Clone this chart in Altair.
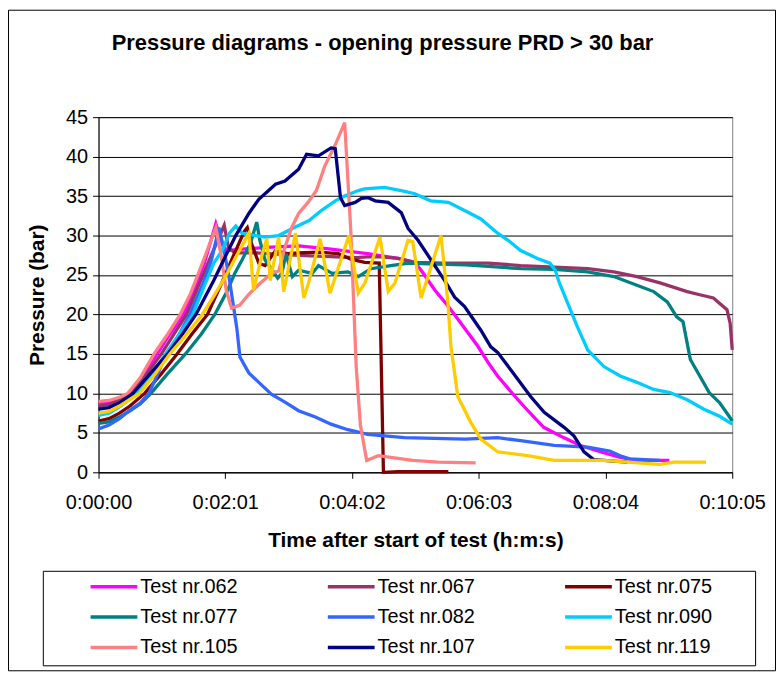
import altair as alt
import pandas as pd

tests = ["Test nr.062", "Test nr.067", "Test nr.075", "Test nr.077", "Test nr.082",
         "Test nr.090", "Test nr.105", "Test nr.107", "Test nr.119"]
colors = ["#FF00FF", "#993366", "#800000", "#008080", "#3366FF",
          "#00CCFF", "#FF8080", "#000080", "#FFCC00"]

# time in seconds after start, pressure in bar
t062 = [0,10,20,30,42,56,68,81,91,101,112,118,122,140,160,191,220,245,257,286,302,308,321,334,346,362,372,381,397,410,425,444,460,479,498,514,545]
p062 = [8.8,8.9,9.3,10,12.2,15,17.5,20,23,26.5,31.5,29,28.1,28.3,28.5,28.7,28.3,27.9,27.7,27.1,26.6,25.6,23.1,21,18.9,16,13.9,12.2,9.7,7.8,5.7,4.4,3.4,2.6,1.9,1.5,1.5]

t067 = [0,10,20,32,45,60,72,84,95,107,120,124,130,150,191,245,257,270,286,302,330,372,403,435,467,492,514,536,562,574,587,600,603,605]
p067 = [8.4,8.6,9.1,10,12.3,15,17.5,20,23.5,27.3,31.3,28.5,27.8,27.8,27.5,27.2,27.3,27.3,27.1,26.6,26.5,26.5,26.2,26.0,25.8,25.4,24.8,24,22.9,22.5,22.1,20.6,18.9,15.5]

t075 = [0,10,20,30,44,60,75,89,104,116,128,139,142,146,153,159,169,180,191,210,229,241,254,268,272,286,334]
p075 = [6.5,6.8,7.5,8.4,10,12.5,15,17.5,20,23.5,27.2,30.5,31,29,26.5,26.2,28.1,27.7,27.8,27.9,27.7,27,26.6,26.5,0,0.1,0.1]

t077 = [0,10,20,30,40,50,66,83,98,111,117,123,130,137,145,151,154,159,166,171,175,179,185,191,204,210,223,238,248,260,279,296,315,350,372,403,435,467,492,514,530,543,552,558,565,574,583,593,602,605]
p077 = [6.2,6.4,7.0,7.8,8.7,10,12.5,15,17.5,20,21.5,23,25.2,26.9,29,31.7,29.4,26.9,25.6,24.6,25.2,27.7,24.8,25.6,25.2,26.2,25.2,25.4,24.8,25.8,26.2,26.5,26.4,26.3,26.1,25.8,25.7,25.4,24.8,23.7,22.9,21.6,19.7,19.1,14.3,12.2,10.1,8.8,7.1,6.5]

t082 = [0,10,20,30,40,48,56,63,75,87,100,108,115,120,124.5,132,135,143.5,153,165,178,191,207,222,238,245,257,292,350,381,403,435,467,488,498,507,536]
p082 = [5.5,6.0,6.8,7.9,8.8,10,12.3,14.5,17,20,24,27,31,28,24.8,18.3,14.6,12.6,11.4,9.9,8.9,7.8,7.0,6.1,5.4,5.2,4.8,4.4,4.2,4.4,4.0,3.4,3.2,2.7,2.1,1.7,1.5]

t090 = [0,10,20,37,50,64,77,90,100,110,118,125,131,137,150,159,172,185,201,213,226,235,248,254,273,289,302,317,334,349,365,381,391,403,419,431,436,440,448,457,467,473,482.5,498,514,530,545.5,562,578,593,605]
p090 = [7.2,7.5,8.3,10,12.3,15,17.5,20,23.3,26.5,28.1,30.3,31.2,30.3,30.0,29.8,30,30.9,31.9,33.2,34.4,35,35.7,35.9,36.1,35.7,35.3,34.4,34.2,33.2,32.1,30.3,29.4,28.1,27.1,26.5,25.6,24,21.4,18.5,15.5,14.7,13.4,12.2,11.4,10.5,10.1,9.2,8.0,7.1,6.1]

t105 = [0,10,20,28,40,53,65,78,88,100,112,117,122,127,135,143,153,165,172,178,184,191,200,208,216,226,235,241,246,250,256,267,279,300,324,360]
p105 = [9.0,9.1,9.5,10,12,15,17.3,20,22.7,26.8,31.0,27.5,23,20.8,21.2,22.5,23.8,25.2,25.5,28.5,30.9,32.8,34.2,35.7,38.8,41.5,44.3,30.2,13.4,6,1.5,2.1,1.9,1.5,1.3,1.2]

t107 = [0,10,20,33,50,66,80,93,110,122,131,143.5,153,169,178,191,198.6,210,222,226,231,235,245,251,257.5,264,276.5,289,295.5,305,317.5,330.5,340,349.5,365,374.5,381,393.5,412.5,425.5,444.5,454,463.5,473,482.5,505]
p107 = [8.0,8.2,8.8,10,12.6,15,17.5,20,24.3,27.6,30,32.8,34.6,36.5,36.9,38.4,40.3,40.1,41.1,41,34.8,33.8,34.2,34.7,34.8,34.4,34.2,32.9,30.9,29.4,26.9,24.3,22.2,21,18,15.9,15.2,13,9.6,7.6,5.7,4.6,2.6,1.6,1.5,1.3]

t119 = [0,10,20,39,55,68,84,99,110,122,132,143.5,148,156,160.6,164,172,176.8,188,196,200.5,211.6,221,239,248,254.4,268.7,276.6,283,295.5,300,308,327,333.6,336.4,343,355.5,365,381,409.6,435,482.5,505,536,549,580]
p119 = [7.5,7.7,8.4,10,12.6,15,17.5,20,22.3,25,27.5,30.3,23.1,27.5,29.6,24.3,29.8,22.9,30.3,22.1,24,29.6,22.7,30,22.7,24,29.8,22.9,24,29.4,29.2,22.1,30,21.4,16,9.6,6.3,4.2,2.6,2.1,1.5,1.5,1.3,1.0,1.3,1.3]

tick_seconds = [0, 121, 242, 363, 484, 605]
pressure_ticks = [0, 5, 10, 15, 20, 25, 30, 35, 40, 45]

series = [(tests[0], t062, p062), (tests[1], t067, p067), (tests[2], t075, p075),
          (tests[3], t077, p077), (tests[4], t082, p082), (tests[5], t090, p090),
          (tests[6], t105, p105), (tests[7], t107, p107), (tests[8], t119, p119)]
rows = []
for name, ts, ps in series:
    for t, p in zip(ts, ps):
        rows.append({"test": name, "t": t, "p": p})
df = pd.DataFrame(rows)

FONT = "Liberation Sans"
label_expr = ("'0:' + (floor(datum.value/60) < 10 ? '0' : '') + floor(datum.value/60) + ':' + "
              "(datum.value % 60 < 10 ? '0' : '') + (datum.value % 60)")

lines = alt.Chart(df).mark_line(strokeWidth=3.3).encode(
    x=alt.X("t:Q",
            scale=alt.Scale(domain=[0, 605], nice=False, zero=False),
            axis=alt.Axis(values=tick_seconds, labelExpr=label_expr,
                          title="Time after start of test (h:m:s)",
                          grid=False, tickSize=6, labelPadding=14, titlePadding=18,
                          labelFlush=False)),
    y=alt.Y("p:Q",
            scale=alt.Scale(domain=[0, 45], nice=False),
            axis=alt.Axis(values=pressure_ticks, title="Pressure (bar)",
                          grid=True, gridColor="#000000", gridWidth=1,
                          tickSize=6, labelPadding=5, titlePadding=18)),
    color=alt.Color("test:N",
                    scale=alt.Scale(domain=tests, range=colors),
                    legend=alt.Legend(title=None, orient="none", legendX=-10, legendY=462,
                                      columns=3, direction="horizontal",
                                      symbolType="stroke", symbolSize=2209,
                                      symbolStrokeWidth=3.5, labelFont=FONT, labelFontSize=20,
                                      labelColor="black", labelOffset=1, columnPadding=88.5,
                                      rowPadding=10.5, clipHeight=20, padding=0, labelLimit=0)),
)

box_df = pd.DataFrame({"k": [0]})
frame = alt.Chart(box_df).mark_rect(fillOpacity=0, stroke="black", strokeWidth=1).encode(
    x=alt.value(-90.5), x2=alt.value(680.5), y=alt.value(-107.5), y2=alt.value(556.5))
legend_box = alt.Chart(box_df).mark_rect(fillOpacity=0, stroke="black", strokeWidth=1).encode(
    x=alt.value(-55.5), x2=alt.value(660.5), y=alt.value(456.5), y2=alt.value(551.5))

chart = alt.layer(lines, legend_box, frame).properties(
    width=637, height=357,
    autosize=alt.AutoSizeParams(type="none"),
    padding={"left": 91, "top": 108, "right": 44, "bottom": 200},
    title=alt.TitleParams("Pressure diagrams - opening pressure PRD > 30 bar",
                          font=FONT, fontSize=22, fontWeight="bold", anchor="middle",
                          frame="group", offset=-62, dx=-33, baseline="alphabetic",
                          color="black"),
).configure_axis(
    labelFont=FONT, titleFont=FONT, labelFontSize=20, titleFontSize=21,
    labelColor="black", titleColor="black", domainColor="black", tickColor="black",
    titleFontWeight="bold",
).configure_view(stroke="#808080")

chart.save("out.html", embed_options={"renderer": "svg", "actions": False})
